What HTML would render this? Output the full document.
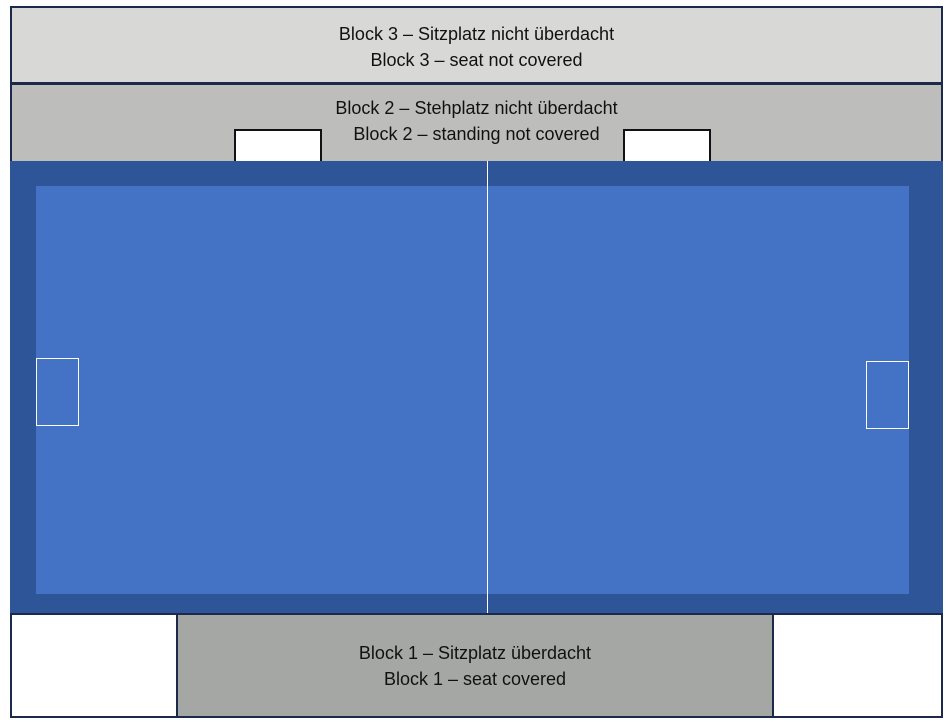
<!DOCTYPE html>
<html><head><meta charset="utf-8"><style>
body{margin:0;width:950px;height:723px;background:#fff;position:relative;overflow:hidden;font-family:"Liberation Sans",sans-serif;}
div{position:absolute;box-sizing:border-box;}
.t{text-align:center;font-size:18px;line-height:26px;color:#111;}
</style></head><body>
<div style="left:10px;top:6px;width:933px;height:79px;background:#d8d9d7;border:2px solid #1b2a4a;border-bottom:3px solid #1b2a4a;"></div>
<div class="t" style="left:10px;top:21px;width:933px;">Block 3 – Sitzplatz nicht überdacht<br>Block 3 – seat not covered</div>
<div style="left:10px;top:85px;width:933px;height:77px;background:#bdbebc;border:2px solid #1b2a4a;border-top:none;border-bottom:none;"></div>
<div class="t" style="left:10px;top:95px;width:933px;">Block 2 – Stehplatz nicht überdacht<br>Block 2 – standing not covered</div>
<div style="left:234px;top:129px;width:88px;height:33px;background:#fff;border:2px solid #111;border-bottom:none;"></div>
<div style="left:623px;top:129px;width:88px;height:33px;background:#fff;border:2px solid #111;border-bottom:none;"></div>
<div style="left:10px;top:161px;width:933px;height:453px;background:#2e5597;"></div>
<div style="left:36px;top:186px;width:873px;height:408px;background:#4472c4;"></div>
<div style="left:487px;top:161px;width:1px;height:453px;background:#fff;"></div>
<div style="left:36px;top:358px;width:43px;height:68px;border:1.5px solid #fff;"></div>
<div style="left:866px;top:361px;width:43px;height:68px;border:1.5px solid #fff;"></div>
<div style="left:10px;top:613px;width:933px;height:105px;background:#fff;border:2px solid #1b2a4a;"></div>
<div style="left:176px;top:613px;width:598px;height:105px;background:#a5a7a5;border:2px solid #1b2a4a;"></div>
<div class="t" style="left:176px;top:640px;width:598px;">Block 1 – Sitzplatz überdacht<br>Block 1 – seat covered</div>
</body></html>
